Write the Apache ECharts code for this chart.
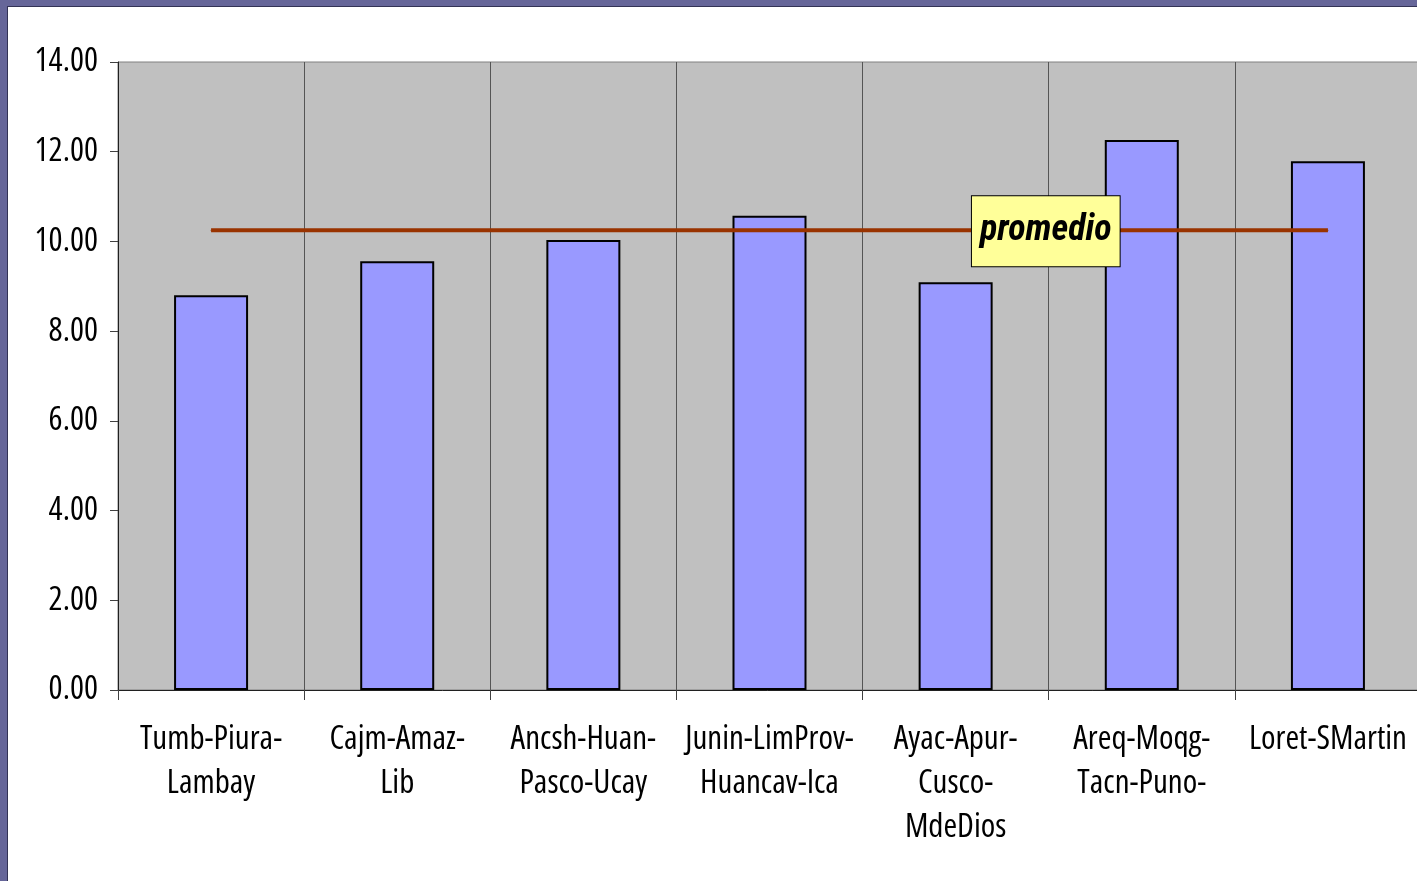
<!DOCTYPE html>
<html>
<head>
<meta charset="utf-8">
<script src="https://cdn.jsdelivr.net/npm/echarts@6/dist/echarts.min.js"></script>
<style>
  html, body { margin: 0; padding: 0; background: #fff; }
  #chart { width: 1417px; height: 881px; }
</style>
</head>
<body>
<div id="chart"></div>
<script>
const regions = [
  "Tumb-Piura-\nLambay",
  "Cajm-Amaz-\nLib",
  "Ancsh-Huan-\nPasco-Ucay",
  "Junin-LimProv-\nHuancav-Ica",
  "Ayac-Apur-\nCusco-\nMdeDios",
  "Areq-Moqg-\nTacn-Puno-",
  "Loret-SMartin",
];
const values = [8.8, 9.56, 10.03, 10.57, 9.09, 12.26, 11.79];
const promedio = [10.25, 10.25, 10.25, 10.25, 10.25, 10.25, 10.25];

// no Arial Narrow here: squeeze Open Sans via font-stretch in the canvas font string
const fontFam = "'Open Sans', sans-serif";

const chartDom = document.getElementById("chart");
const chart = echarts.init(chartDom);

const option = {
  animation: false,
  backgroundColor: "#ffffff",
  graphic: [
    { type: "rect", left: 0, top: 0, shape: { width: 1417, height: 6 }, style: { fill: "#666699" } },
    { type: "rect", left: 0, top: 0, shape: { width: 7, height: 881 }, style: { fill: "#666699" } },
    { type: "rect", left: 7, top: 6, shape: { width: 1410, height: 1 }, style: { fill: "#333355" } },
    { type: "rect", left: 7, top: 6, shape: { width: 1, height: 875 }, style: { fill: "#333355" } },
  ],
  grid: {
    left: 118,
    top: 62,
    width: 1303,
    height: 628,
    outerBoundsMode: "none",
    containLabel: false,
    show: true,
    backgroundColor: "#C0C0C0",
    borderColor: "#808080",
    borderWidth: 1,
  },
  xAxis: {
    type: "category",
    data: regions,
    boundaryGap: true,
    axisLine: { lineStyle: { color: "#202020", width: 1 } },
    axisTick: { show: true, length: 10, lineStyle: { color: "#404040" } },
    splitLine: { show: true, lineStyle: { color: "#555555", width: 1 } },
    axisLabel: {
      interval: 0,
      margin: 28,
      fontFamily: fontFam,
      fontStyle: "condensed",
      fontSize: 33,
      lineHeight: 44,
      color: "#000",
      align: "center",
    },
  },
  yAxis: {
    type: "value",
    min: 0,
    max: 14,
    interval: 2,
    splitLine: { show: false },
    axisLine: { show: true, lineStyle: { color: "#202020", width: 1 } },
    axisTick: { show: true, length: 8, lineStyle: { color: "#404040" } },
    axisLabel: {
      margin: 20,
      fontFamily: fontFam,
      fontStyle: "condensed",
      fontSize: 33,
      color: "#000",
      formatter: (v) => v.toFixed(2),
    },
  },
  series: [
    {
      type: "bar",
      data: values,
      barWidth: 74,
      itemStyle: { color: "#9999FF", borderColor: "#000000", borderWidth: 2 },
    },
    {
      type: "line",
      data: promedio.map((v, i) =>
        i === 5
          ? {
              value: v,
              label: {
                show: true,
                position: "inside",
                offset: [-96, 1],
                formatter: "promedio",
                fontFamily: "'Roboto Condensed', 'Open Sans', sans-serif",
                fontWeight: "bold",
                fontStyle: "italic",
                fontSize: 36,
                lineHeight: 40,
                color: "#000",
                backgroundColor: "#FFFF99",
                borderColor: "#000",
                borderWidth: 1,
                padding: [15, 8, 15, 8],
              },
            }
          : v
      ),
      symbol: "circle",
      symbolSize: 1,
      showSymbol: true,
      itemStyle: { color: "#993300" },
      lineStyle: { color: "#993300", width: 4 },
      z: 5,
    },
  ],
};

chart.setOption(option);
</script>
</body>
</html>
